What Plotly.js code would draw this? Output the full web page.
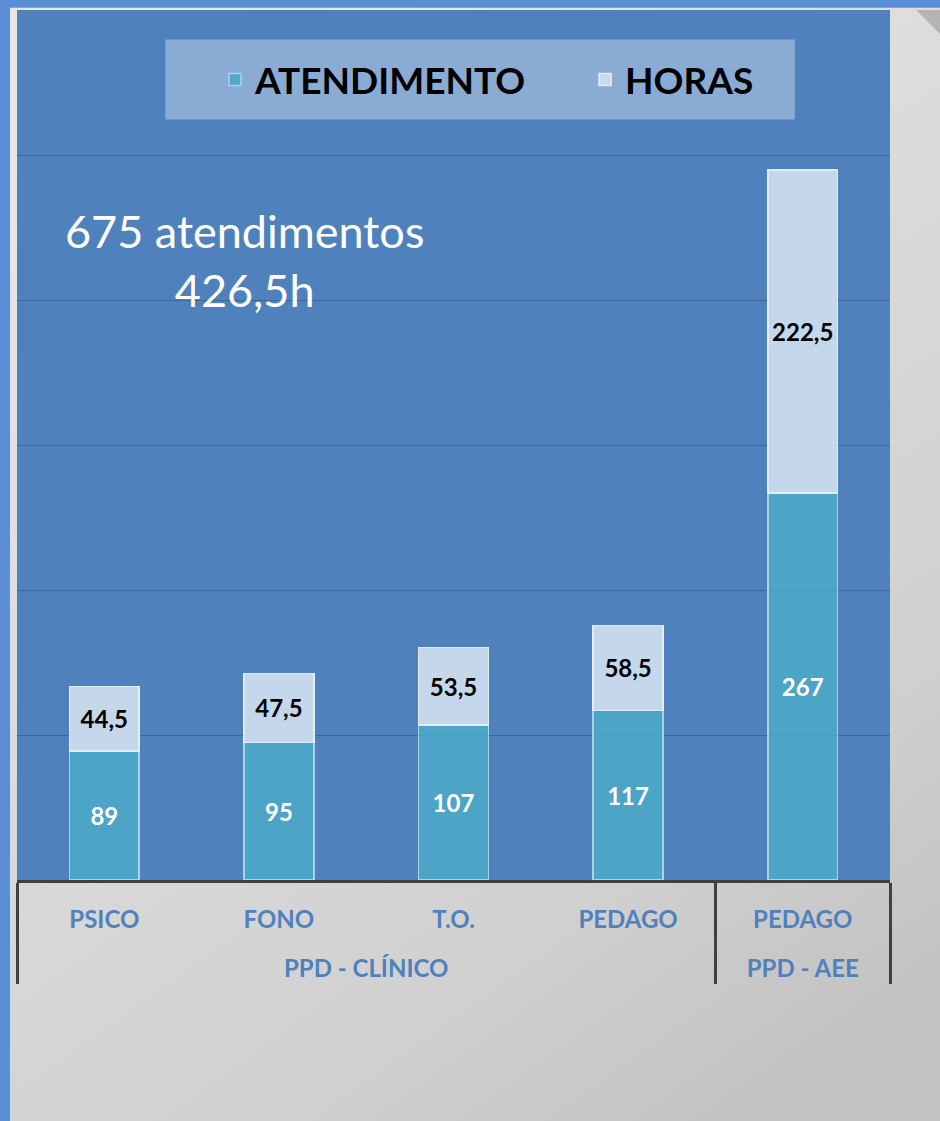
<!DOCTYPE html>
<html>
<head>
<meta charset="utf-8">
<script src="https://cdn.plot.ly/plotly-3.0.1.min.js"></script>
<style>
  body { margin: 0; padding: 0; background: #cdcdcd; }
  #chart { width: 940px; height: 1121px; }
</style>
</head>
<body>
<div id="chart"></div>
<script>
// groups and categories of the x axis
var grupos = ["PPD - CLÍNICO", "PPD - CLÍNICO", "PPD - CLÍNICO", "PPD - CLÍNICO", "PPD - AEE"];
var areas = ["PSICO", "FONO", "T.O.", "PEDAGO", "PEDAGO"];

// series values
var atendimento = [89, 95, 107, 117, 267];
var horas = [44.5, 47.5, 53.5, 58.5, 222.5];

var totalAtend = "675 atendimentos";
var totalHoras = "426,5h";

function virgula(v) {
  return String(v).replace(".", ",");
}

var font = "Lato, 'Open Sans', sans-serif";
var nbsp = "\u00a0";

// grey gradient background of the page, as an inline svg
var fundo = '<svg xmlns="http://www.w3.org/2000/svg" width="940" height="1121">' +
  '<defs><linearGradient id="g" x1="0.2" y1="0" x2="0.8" y2="1">' +
  '<stop offset="0" stop-color="#e8e8e8"/><stop offset="0.78" stop-color="#d0d0d0"/>' +
  '<stop offset="1" stop-color="#c2c2c2"/>' +
  '</linearGradient></defs>' +
  '<rect width="940" height="1121" fill="url(#g)"/>' +
  '<polygon points="916,10 940,10 940,34" fill="#b4b4b4"/>' +
  '</svg>';
var fundoUri = "data:image/svg+xml;charset=utf-8," + encodeURIComponent(fundo);

// the empty second line gives room between the two label rows
var xCats = [grupos, areas.map(function (a) { return a + "<br><span style='font-size:38px'>" + nbsp + "</span>"; })];

var traceAtend = {
  x: xCats,
  y: atendimento,
  name: "ATENDIMENTO" + nbsp.repeat(6),
  type: "bar",
  width: 0.4,
  marker: { color: "rgba(75,167,200,0.9)", line: { color: "#a8d4e8", width: 1.5 } },
  text: atendimento.map(virgula),
  textposition: "inside",
  insidetextanchor: "middle",
  textangle: 0,
  constraintext: "none",
  textfont: { family: font, size: 24, color: "#ffffff", weight: "bold" },
  hoverinfo: "y"
};

var traceHoras = {
  x: xCats,
  y: horas,
  name: "HORAS",
  type: "bar",
  width: 0.4,
  marker: { color: "rgba(205,221,238,0.94)", line: { color: "#e4edf7", width: 1.5 } },
  text: horas.map(virgula),
  textposition: "inside",
  insidetextanchor: "middle",
  textangle: 0,
  constraintext: "none",
  textfont: { family: font, size: 24, color: "#000000", weight: "bold" },
  hoverinfo: "y"
};

var layout = {
  width: 940,
  height: 1121,
  margin: { l: 17, r: 50, t: 10, b: 241 },
  barmode: "stack",
  paper_bgcolor: "#cdcdcd",
  plot_bgcolor: "rgba(0,0,0,0)",
  font: { family: font },
  xaxis: {
    type: "multicategory",
    showline: true,
    linecolor: "#404040",
    linewidth: 3,
    showgrid: false,
    showdividers: true,
    dividercolor: "#404040",
    dividerwidth: 3,
    ticklabelstandoff: 16,
    tickfont: { family: font, size: 24, color: "#4f81bd", weight: "bold" },
    ticks: ""
  },
  yaxis: {
    range: [0, 600],
    dtick: 100,
    showticklabels: false,
    gridcolor: "#3d6699",
    gridwidth: 1.3,
    zeroline: false,
    showline: false
  },
  showlegend: true,
  legend: {
    orientation: "h",
    x: 0.2268,
    xanchor: "left",
    y: 0.9195,
    yanchor: "middle",
    bgcolor: "rgba(0,0,0,0)",
    borderwidth: 0,
    font: { family: font, size: 37, color: "#000000", weight: "bold" },
    traceorder: "normal"
  },
  annotations: [
    {
      xref: "paper", yref: "paper",
      x: 0.261, y: 0.7115,
      xanchor: "center", yanchor: "middle",
      text: totalAtend + "<br>" + totalHoras,
      showarrow: false,
      align: "center",
      font: { family: font, size: 45, color: "#ffffff" }
    }
  ],
  images: [
    { source: fundoUri, xref: "paper", yref: "paper",
      x: -17 / 873, y: 1 + 10 / 870, sizex: 940 / 873, sizey: 1121 / 870,
      xanchor: "left", yanchor: "top", sizing: "stretch", layer: "below" }
  ],
  shapes: [
    // plot area background
    { type: "rect", xref: "paper", yref: "paper", layer: "below",
      x0: 0, x1: 1, y0: 0, y1: 1,
      fillcolor: "#4f81bd", line: { width: 0 } },
    // legend box
    { type: "rect", xref: "paper", yref: "paper", layer: "below",
      x0: 0.170, x1: 0.891, y0: 0.874, y1: 0.966,
      fillcolor: "#8aabd4", line: { width: 0 } },
    // left blue strip
    { type: "rect", xref: "paper", yref: "paper", layer: "below",
      x0: -0.0195, x1: -0.008, y0: -0.3, y1: 1.02,
      fillcolor: "#5a8fd6", line: { width: 0 } },
    // top blue strip
    { type: "rect", xref: "paper", yref: "paper", layer: "below",
      x0: -0.0195, x1: 1.06, y0: 1.0025, y1: 1.02,
      fillcolor: "#5a8fd6", line: { width: 0 } }
  ]
};

Plotly.newPlot("chart", [traceAtend, traceHoras], layout, { displayModeBar: false });
</script>
</body>
</html>
